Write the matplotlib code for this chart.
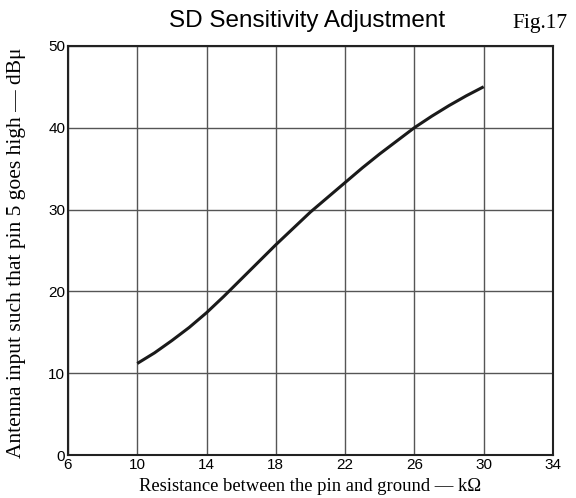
import matplotlib.pyplot as plt

resistance = [10, 11, 12, 13, 14, 15, 16, 17, 18, 19, 20, 21, 22, 23, 24, 25, 26, 27, 28, 29, 30]
antenna_input = [11.2, 12.5, 14.0, 15.6, 17.4, 19.4, 21.5, 23.6, 25.7, 27.7, 29.7, 31.5, 33.3,
                 35.1, 36.8, 38.4, 40.0, 41.4, 42.7, 43.9, 45.0]
x_ticks = [6, 10, 14, 18, 22, 26, 30, 34]
y_ticks = [0, 10, 20, 30, 40, 50]

fig = plt.figure(figsize=(5.76, 4.98), dpi=100)
ax = fig.add_axes([0.118, 0.086, 0.842, 0.822])

ax.plot(resistance, antenna_input, color='#1a1a1a', linewidth=2.2, solid_capstyle='butt')

ax.set_xlim(6, 34)
ax.set_ylim(0, 50)
ax.set_xticks(x_ticks)
ax.set_yticks(y_ticks)
ax.grid(True, color='#555555', linewidth=1.0)
ax.tick_params(length=0, labelsize=11, pad=2)
for lab in ax.get_xticklabels() + ax.get_yticklabels():
    lab.set_family('Liberation Sans')
for s in ax.spines.values():
    s.set_linewidth(1.5)
    s.set_color('#222222')

ax.set_xlabel('Resistance between the pin and ground — kΩ', family='Liberation Serif', fontsize=13.4, labelpad=4)
ax.set_ylabel('Antenna input such that pin 5 goes high — dBμ', family='Liberation Serif', fontsize=15.5)
ax.yaxis.set_label_coords(-0.087, 0.495)

fig.text(0.533, 0.958, 'SD Sensitivity Adjustment', family='Liberation Sans', fontsize=17.5, ha='center', va='center')
fig.text(0.985, 0.952, 'Fig.17', family='Liberation Serif', fontsize=15.5, ha='right', va='center')

fig.savefig('out.png', dpi=100)
